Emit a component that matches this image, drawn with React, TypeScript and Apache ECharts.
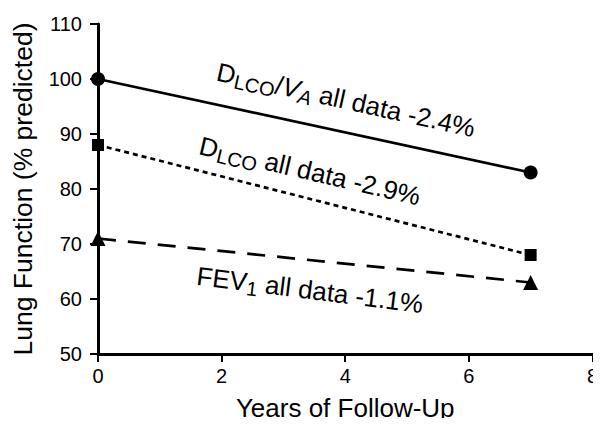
import React, { useEffect, useRef } from "react";
import * as echarts from "echarts";

const years = [0, 7];
const dlcoVa = [100, 83];
const dlco = [88, 68];
const fev1 = [71, 63];
const xTicks = [0, 2, 4, 6, 8];
const yTicks = [50, 60, 70, 80, 90, 100, 110];

const FONT = "Liberation Sans, Arial, sans-serif";

export default function App() {
  const ref = useRef<HTMLDivElement>(null);
  useEffect(() => {
    const chart = echarts.init(ref.current!, null, { renderer: "svg" });
    const pair = (ys: number[]) => years.map((x, i) => [x, ys[i]]);
    const rich = {
      n: { fontSize: 26, fontFamily: FONT, color: "#000" },
      s: { fontSize: 20, fontFamily: FONT, color: "#000", padding: [12, 0, 0, 0] },
      i: { fontSize: 26, fontFamily: FONT, color: "#000", fontStyle: "italic" },
      si: { fontSize: 20, fontFamily: FONT, color: "#000", fontStyle: "italic", padding: [12, 0, 0, 0] },
    };
    const ann = (x: number, y: number, deg: number, text: string) => ({
      type: "text",
      x,
      y,
      rotation: (-deg * Math.PI) / 180,
      style: {
        text,
        align: "center",
        verticalAlign: "middle",
        rich,
        fill: "#000",
      },
    });
    chart.setOption({
      animation: false,
      backgroundColor: "#fff",
      grid: { left: 98, right: 7, top: 24, bottom: 70, containLabel: false },
      xAxis: {
        type: "value",
        min: 0,
        max: 8,
        interval: 2,
        name: "Years of Follow-Up",
        nameLocation: "middle",
        nameGap: 41,
        nameTextStyle: { fontSize: 26, fontFamily: FONT, color: "#000" },
        axisLine: { lineStyle: { color: "#000", width: 3 } },
        axisTick: { show: true, length: 8, lineStyle: { color: "#000", width: 2 } },
        axisLabel: { fontSize: 20, fontFamily: FONT, color: "#000", margin: 12,
          formatter: (v: number) => (xTicks.includes(v) ? String(v) : "") },
        splitLine: { show: false },
      },
      yAxis: {
        type: "value",
        min: 50,
        max: 110,
        interval: 10,
        name: "Lung Function (% predicted)",
        nameLocation: "middle",
        nameGap: 62,
        nameTextStyle: { fontSize: 26.5, fontFamily: FONT, color: "#000" },
        axisLine: { show: true, lineStyle: { color: "#000", width: 3 } },
        axisTick: { show: true, length: 8, lineStyle: { color: "#000", width: 2 } },
        axisLabel: { fontSize: 20, fontFamily: FONT, color: "#000", margin: 16,
          formatter: (v: number) => (yTicks.includes(v) ? String(v) : "") },
        splitLine: { show: false },
      },
      series: [
        {
          type: "line",
          data: pair(dlcoVa),
          symbol: "circle",
          symbolSize: 14,
          itemStyle: { color: "#000" },
          lineStyle: { color: "#000", width: 2.7, type: "solid" },
        },
        {
          type: "line",
          data: pair(dlco),
          symbol: "rect",
          symbolSize: 12,
          itemStyle: { color: "#000" },
          lineStyle: { color: "#000", width: 2.7, type: [5, 4] },
        },
        {
          type: "line",
          data: pair(fev1),
          symbol: "triangle",
          symbolSize: 15,
          itemStyle: { color: "#000" },
          lineStyle: { color: "#000", width: 2.7, type: [18, 12] },
        },
      ],
      graphic: [
        ann(346, 100, 12.5, "{n|D}{s|LCO}{n|/}{i|V}{si|A}{n| all data -2.4%}"),
        ann(310, 171, 13.2, "{n|D}{s|LCO}{n| all data -2.9%}"),
        ann(310, 290, 7.2, "{n|FEV}{s|1}{n| all data -1.1%}"),
      ],
    });
    return () => chart.dispose();
  }, []);
  return <div ref={ref} style={{ width: 601, height: 426, margin: -8 }} />;
}
